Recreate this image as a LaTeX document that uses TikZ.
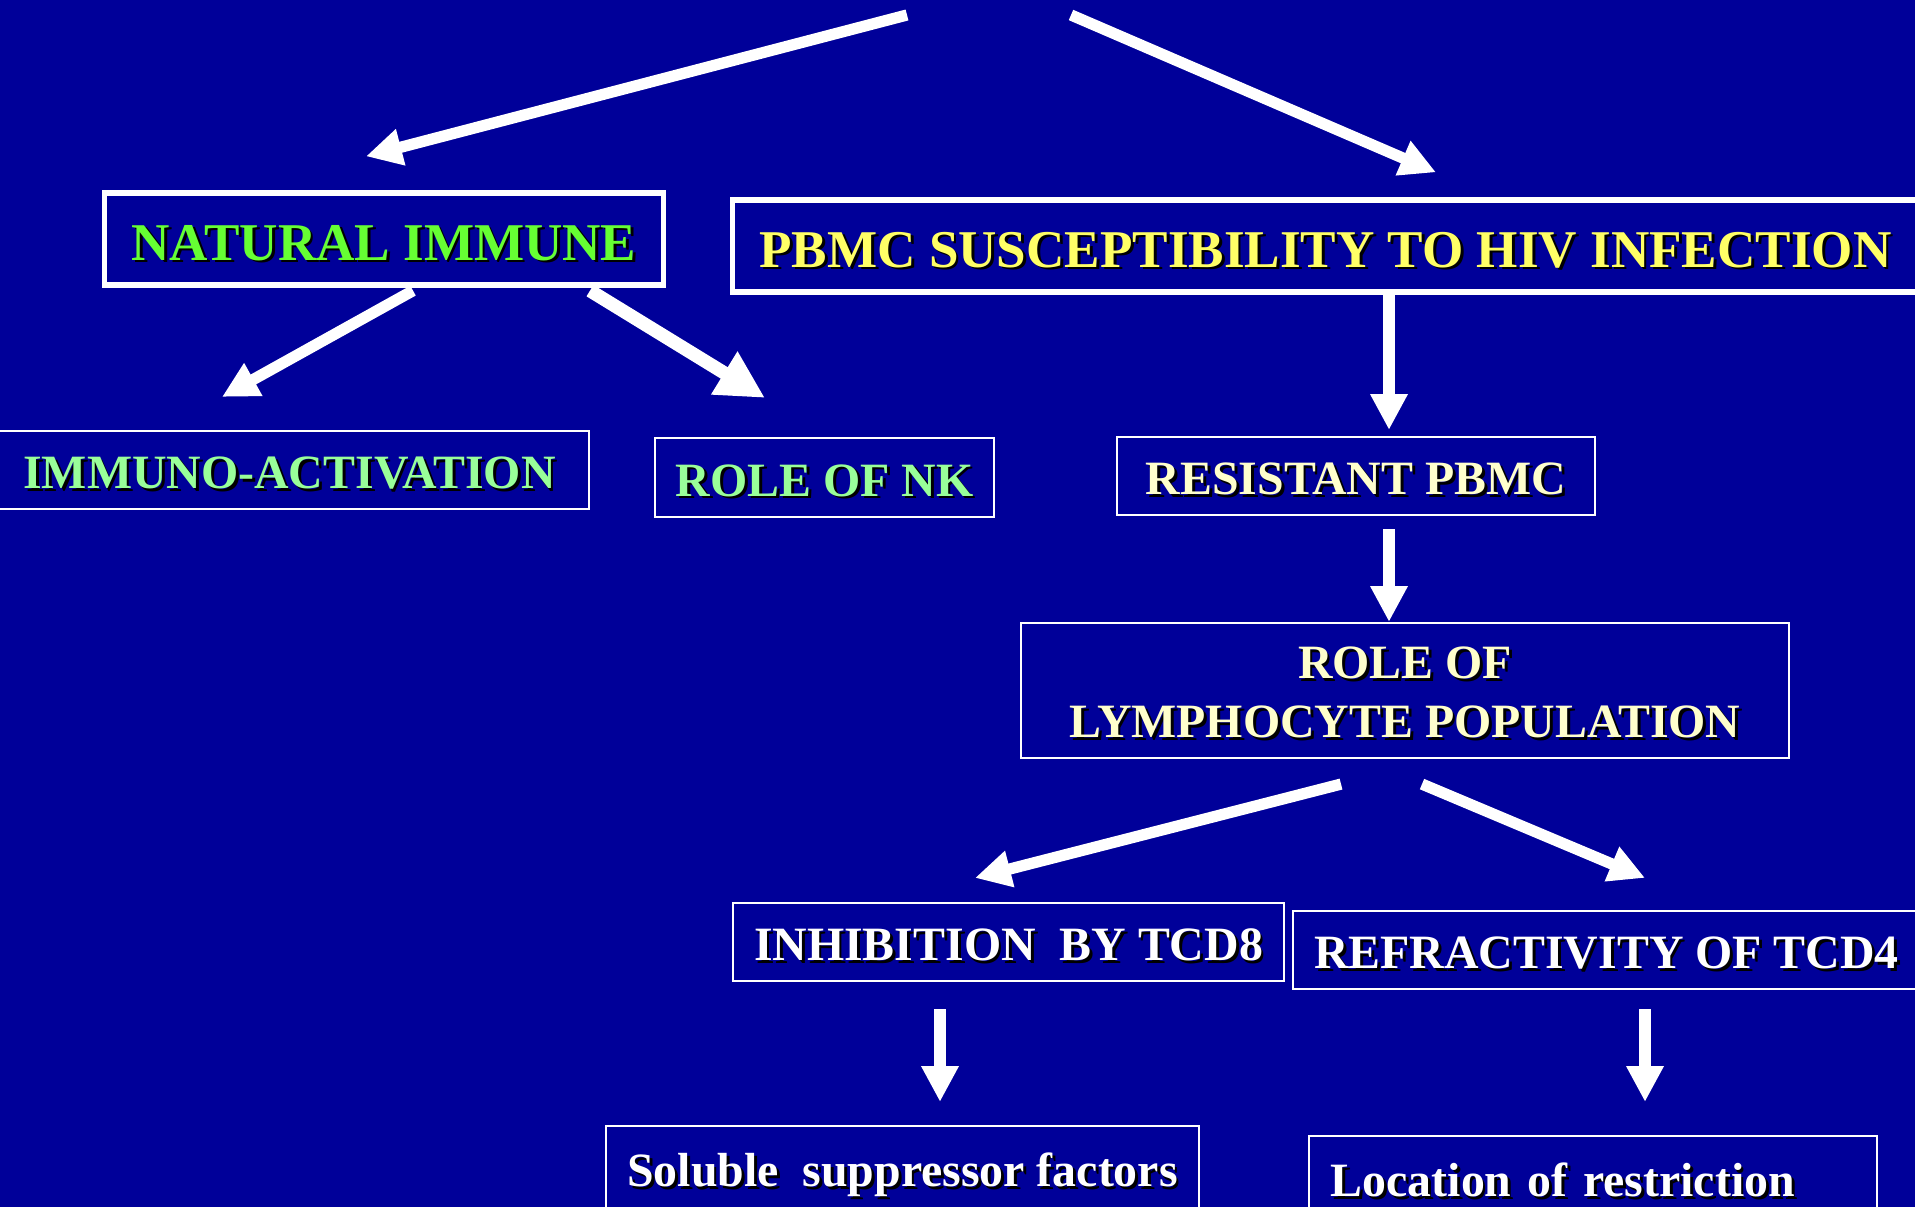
\documentclass[tikz,border=0pt]{standalone}
\usepackage{fontspec}
\setmainfont{Liberation Serif}
\usetikzlibrary{arrows.meta,calc}
\definecolor{slideblue}{HTML}{000099}
\definecolor{slidegreen}{HTML}{66FF33}
\definecolor{palegreen}{HTML}{99FF99}
\definecolor{slideyellow}{HTML}{FFFF66}
\definecolor{paleyellow}{HTML}{FFFFCC}
\newcommand\shtext[2]{\makebox[0pt][l]{\kern0.8pt\raisebox{-0.8pt}{\color{black}#2}}{\color{#1}#2}}

\begin{document}
\begin{tikzpicture}[x=0.01cm, y=-0.01cm,
    box/.style={draw=white, line width=0.6pt, inner sep=0pt, minimum height=7.8mm, text height=10.6pt, text depth=0pt, font=\bfseries\fontsize{13.6}{16.8}\selectfont},
    bigbox/.style={box, line width=1.5pt, minimum height=9.2mm, text height=12pt, font=\bfseries\fontsize{15.1}{18}\selectfont},
    arr/.style={white, line width=3.2pt, -{Triangle[length=10.2pt,width=10pt]}}]
  \fill[slideblue] (0,0) rectangle (1915,1207);
  \clip (0,0) rectangle (1915,1207);
  \node[bigbox, minimum width=55.8mm] (natimm) at (384,239) {\shtext{slidegreen}{NATURAL IMMUNE}};
  \node[bigbox, minimum width=118.5mm] (pbmc) at (1325.5,246) {\shtext{slideyellow}{PBMC SUSCEPTIBILITY TO HIV INFECTION}};
  \node[box, minimum width=59.9mm] (immact) at (289.5,470) {\shtext{palegreen}{IMMUNO-ACTIVATION}};
  \node[box, minimum width=33.9mm, minimum height=7.9mm] (rolenk) at (824.5,477.5) {\shtext{palegreen}{ROLE OF NK}};
  \node[box, minimum width=47.8mm] (respbmc) at (1356,476) {\shtext{paleyellow}{RESISTANT PBMC}};
  \node[box, minimum width=76.8mm, minimum height=13.5mm, text height=27pt, text depth=0pt, align=center] (rolelym) at (1405,690.5)
    {\shtext{paleyellow}{ROLE OF}\\\shtext{paleyellow}{LYMPHOCYTE POPULATION}};
  \node[box, minimum width=55.1mm] (inhib) at (1008.5,942) {\shtext{white}{INHIBITION\ \ BY TCD8}};
  \node[box, minimum width=62.7mm] (refract) at (1606.5,950) {\shtext{white}{REFRACTIVITY OF TCD4}};
  \node[box, minimum width=59.3mm, minimum height=8.4mm] (soluble) at (902.5,1168) {\shtext{white}{Soluble\ \ suppressor factors}};
  \node[box, text width=52.4mm, inner xsep=2.2mm, minimum height=8.4mm, align=left] (location) at (1593,1178) {\shtext{white}{Location of restriction}};
  \coordinate (topl) at (907,15);
  \coordinate (topr) at (1071,15);
  \draw[arr] (topl) -- ($(natimm.north)+(-18,-34)$);
  \draw[arr] (topr) -- ($(pbmc.north)+(110.5,-25)$);
  \draw[arr] ($(natimm.south)+(29,3)$) -- ($(immact.north)+(-67.5,-33)$);
  \draw[arr, line width=3.8pt, -{Triangle[length=13.6pt,width=13.4pt]}] ($(natimm.south)+(206,3)$) -- ($(rolenk.north)+(-59.5,-39)$);
  \draw[arr] ($(pbmc.south)+(63.5,-3)$) -- ($(respbmc.north)+(33,-6)$);
  \draw[arr] ($(respbmc.south)+(33,13)$) -- ($(rolelym.north)+(-16,0)$);
  \draw[arr] ($(rolelym.south)+(-64,25)$) -- ($(inhib.north)+(-33.5,-24)$);
  \draw[arr] ($(rolelym.south)+(17,25)$) -- ($(refract.north)+(38.5,-32)$);
  \draw[arr] ($(inhib.south)+(-68.5,27)$) -- ($(soluble.north)+(37.5,-23)$);
  \draw[arr] ($(refract.south)+(38.5,19)$) -- ($(location.north)+(52,-33)$);
\end{tikzpicture}
\end{document}
